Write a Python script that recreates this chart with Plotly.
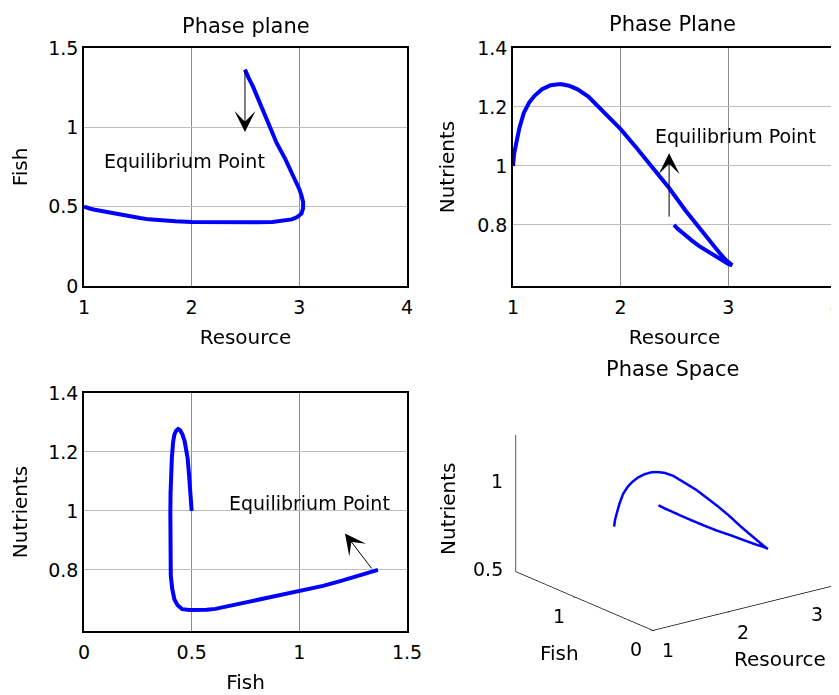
import plotly.graph_objects as go

# Trajectory samples (same time points for every panel)
resource = [1.00, 1.01, 1.03, 1.06, 1.10, 1.15, 1.20, 1.27, 1.35, 1.44, 1.52, 1.60, 1.70,
            1.85, 2.00, 2.15, 2.30, 2.45, 2.60, 2.75, 2.85, 2.93, 2.98, 3.02, 3.035, 3.035,
            3.02, 3.00, 2.945, 2.87, 2.79, 2.73, 2.665, 2.61, 2.57, 2.53, 2.495]
fish = [0.500, 0.497, 0.493, 0.487, 0.481, 0.474, 0.467, 0.457, 0.446, 0.437, 0.428, 0.420,
        0.414, 0.408, 0.404, 0.402, 0.401, 0.401, 0.401, 0.403, 0.410, 0.420, 0.435, 0.456,
        0.490, 0.530, 0.570, 0.610, 0.690, 0.800, 0.900, 1.000, 1.110, 1.190, 1.256, 1.310, 1.365]
nutrients = [1.000, 1.040, 1.077, 1.130, 1.180, 1.215, 1.238, 1.260, 1.274, 1.278, 1.272, 1.260,
             1.235, 1.180, 1.125, 1.060, 0.995, 0.925, 0.850, 0.780, 0.735, 0.700, 0.680, 0.667,
             0.664, 0.664, 0.665, 0.668, 0.680, 0.697, 0.713, 0.728, 0.746, 0.762, 0.775, 0.787, 0.800]

titles = ["Phase plane", "Phase Plane", "Phase Space"]
label_text = "Equilibrium Point"

W, H = 1000, 695   # figure is wider than the 839 px window; the right edge is cropped as in the reference
OFF = 8  # page body margin
FONT = "DejaVu Sans, Liberation Sans, Arial, sans-serif"
FS = 19        # tick labels / annotation text
FS_LAB = 20    # axis labels
FS_TIT = 21    # titles
BLUE = "rgb(0,0,255)"


def px_x(p):
    return (p - OFF) / W


def px_y(p):
    return (H - (p - OFF)) / H


fig = go.Figure()
line = dict(color=BLUE, width=4)
fig.add_trace(go.Scatter(x=resource, y=fish, xaxis="x", yaxis="y", mode="lines",
                         line=line, hoverinfo="skip", showlegend=False))
fig.add_trace(go.Scatter(x=resource, y=nutrients, xaxis="x2", yaxis="y2", mode="lines",
                         line=line, hoverinfo="skip", showlegend=False))
fig.add_trace(go.Scatter(x=fish, y=nutrients, xaxis="x3", yaxis="y3", mode="lines",
                         line=line, hoverinfo="skip", showlegend=False))


def ax2d(dom, rng, tickvals, title, standoff, gridcolor, anchor, tls=0):
    return dict(domain=dom, range=rng, tickvals=tickvals,
                ticktext=[("%g" % v) for v in tickvals],
                showline=True, mirror=True, linecolor="black", linewidth=1.5,
                showgrid=True, gridcolor=gridcolor, gridwidth=1, zeroline=False,
                ticks="", ticklabelstandoff=tls,
                tickfont=dict(family=FONT, size=FS, color="black"),
                title=dict(text=title, font=dict(family=FONT, size=FS_LAB, color="black"),
                           standoff=standoff),
                anchor=anchor, automargin=False, fixedrange=True)


xd1 = [px_x(84), px_x(407)]
xd2 = [px_x(513), px_x(836)]
yd1 = [px_y(286), px_y(48)]
yd3 = [px_y(631), px_y(393)]

VG = "#8c8c8c"
HG = "#bdbdbd"

layout = dict(
    width=W, height=H, margin=dict(l=0, r=0, t=0, b=0),
    paper_bgcolor="white", plot_bgcolor="white", showlegend=False,
    font=dict(family=FONT, size=FS, color="black"),
    xaxis=ax2d(xd1, [1, 4], [1, 2, 3, 4], "Resource", 13, VG, "y", 3),
    yaxis=ax2d(yd1, [0, 1.5], [0, 0.5, 1, 1.5], "Fish", 17, HG, "x"),
    xaxis2=ax2d(xd2, [1, 4], [1, 2, 3, 4], "Resource", 13, VG, "y2", 3),
    yaxis2=ax2d(yd1, [0.593, 1.4], [0.8, 1, 1.2, 1.4], "Nutrients", 17, HG, "x2"),
    xaxis3=ax2d(xd1, [0, 1.5], [0, 0.5, 1, 1.5], "Fish", 13, VG, "y3", 3),
    yaxis3=ax2d(yd3, [0.593, 1.4], [0.8, 1, 1.2, 1.4], "Nutrients", 17, HG, "x3"),
)

# ---- 3-D panel ----
res_rng = [1, 4]
fish_rng = [0, 1.77]
nut_rng = [0.5, 1.285]
res_ticks = [1, 2, 3]
fish_ticks = [0, 1]
nut_ticks = [0.5, 1]

fig.add_trace(go.Scatter3d(x=resource, y=fish, z=nutrients, mode="lines",
                           line=dict(color=BLUE, width=5), hoverinfo="skip",
                           showlegend=False, scene="scene"))
# vertical (Nutrients) axis line on the back-left edge, as in the reference view
fig.add_trace(go.Scatter3d(x=[res_rng[0], res_rng[0]], y=[fish_rng[1], fish_rng[1]],
                           z=nut_rng, mode="lines",
                           line=dict(color="#222222", width=1.5), hoverinfo="skip",
                           showlegend=False, scene="scene"))

axis3d = dict(showgrid=False, showbackground=False, zeroline=False, showspikes=False,
              showline=True, linecolor="black", linewidth=1.5, ticks="outside", ticklen=3,
              tickcolor="black", showticklabels=False, title=dict(text=""))

K = 1.87
SC_CX, SC_CY, SC_HW, SC_HH = 688, 497, 200, 150   # scene domain centre / half sizes (figure px)
layout["scene"] = dict(
    domain=dict(x=[(SC_CX - SC_HW) / W, (SC_CX + SC_HW) / W],
                y=[(H - SC_CY - SC_HH) / H, (H - SC_CY + SC_HH) / H]),
    xaxis=dict(axis3d, range=res_rng, tickvals=res_ticks),
    yaxis=dict(axis3d, range=fish_rng, tickvals=fish_ticks),
    zaxis=dict(axis3d, range=nut_rng, tickvals=nut_ticks, showline=False, ticks=""),
    aspectmode="manual", aspectratio=dict(x=1 * K, y=0.808 * K, z=0.516 * K),
    camera=dict(eye=dict(x=-0.715, y=-0.942, z=0.4075), up=dict(x=0, y=0, z=1),
                center=dict(x=0, y=0, z=0), projection=dict(type="orthographic")),
    bgcolor="rgba(0,0,0,0)",
)

tf = dict(family=FONT, size=FS, color="black")
lf = dict(family=FONT, size=FS_LAB, color="black")
sa = []
for v in res_ticks:
    sa.append(dict(x=v, y=fish_rng[0], z=nut_rng[0], text="%g" % v, showarrow=False,
                   xanchor="center", yanchor="middle", xshift=15.5, yshift=-20, font=tf))
for v in fish_ticks:
    sa.append(dict(x=res_rng[0], y=v, z=nut_rng[0], text="%g" % v, showarrow=False,
                   xanchor="center", yanchor="middle", xshift=-16.5, yshift=-18.5, font=tf))
for v in nut_ticks:
    sa.append(dict(x=res_rng[0], y=fish_rng[1], z=v, text="%g" % v, showarrow=False,
                   xanchor="right", yanchor="middle", xshift=-11, yshift=3, font=tf))
sa.append(dict(x=sum(res_rng) / 2, y=fish_rng[0], z=nut_rng[0], text="Resource",
               showarrow=False, xanchor="center", yanchor="middle", xshift=15.7, yshift=-56,
               font=lf))
sa.append(dict(x=res_rng[0], y=sum(fish_rng) / 2, z=nut_rng[0], text="Fish",
               showarrow=False, xanchor="center", yanchor="middle", xshift=-24.7, yshift=-52,
               font=lf))
sa.append(dict(x=res_rng[0], y=fish_rng[1], z=sum(nut_rng) / 2, text="Nutrients",
               showarrow=False, xanchor="center", yanchor="middle", xshift=-68, yshift=-5,
               textangle=-90, font=lf))
layout["scene"]["annotations"] = sa

annotations = []
title_pos = [(245.5, 26), (672.5, 24), (672.8, 369)]
for t, (tx, ty) in zip(titles, title_pos):
    annotations.append(dict(text=t, xref="paper", yref="paper", x=px_x(tx), y=px_y(ty),
                            xanchor="center", yanchor="middle", showarrow=False,
                            font=dict(family=FONT, size=FS_TIT, color="black")))

# arrows: (xref, yref, head, tail)
arrows = [("x", "y", (2.495, 0.97), (2.495, 1.37)),
          ("x2", "y2", (2.45, 1.043), (2.45, 0.823)),
          ("x3", "y3", (1.212, 0.924), (1.341, 0.80))]
for xr, yr, head, tail in arrows:
    annotations.append(dict(text="", xref=xr, yref=yr, x=head[0], y=head[1],
                            axref=xr, ayref=yr, ax=tail[0], ay=tail[1],
                            showarrow=True, arrowhead=3, arrowsize=3.5, arrowwidth=1,
                            arrowcolor="black", standoff=0, startstandoff=0))

labels = [("x", "y", 1.167, 0.79), ("x2", "y2", 2.297, 1.102), ("x3", "y3", 0.663, 1.026)]
for xr, yr, lx, ly in labels:
    annotations.append(dict(text=label_text, xref=xr, yref=yr, x=lx, y=ly,
                            xanchor="left", yanchor="middle", showarrow=False,
                            font=tf))

layout["annotations"] = annotations
fig.update_layout(**layout)
fig.write_html("out.html")
